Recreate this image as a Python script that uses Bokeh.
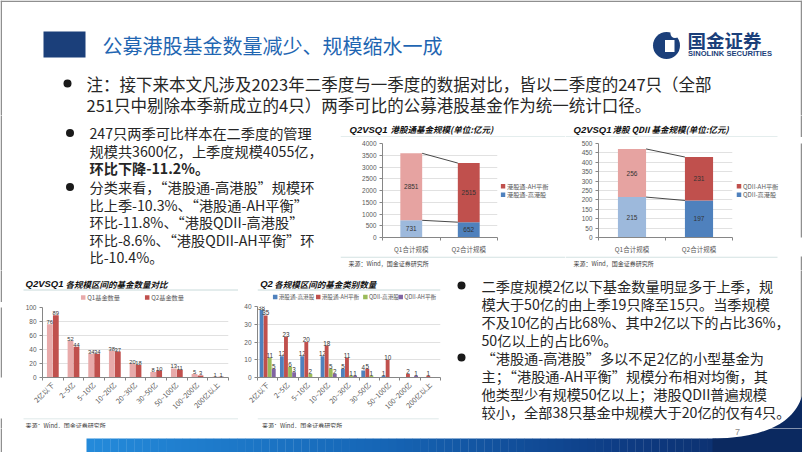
import math
from bokeh.plotting import figure
from bokeh.layouts import column, row
from bokeh.models import Range1d, Label, FixedTicker, CustomJSTickFormatter
from bokeh.embed import file_html
from bokeh.resources import INLINE
from bokeh.core.properties import value

CJK = "Noto Sans CJK SC"
NUM = "Liberation Sans"

# ---------------- data ----------------
page_title = "公募港股基金数量减少、规模缩水一成"
logo_cn = "国金证券"
logo_en = "SINOLINK SECURITIES"
note_lines = ["注：接下来本文凡涉及2023年二季度与一季度的数据对比，皆以二季度的247只（全部",
              "251只中剔除本季新成立的4只）两季可比的公募港股基金作为统一统计口径。"]
left_para1 = ["247只两季可比样本在二季度的管理", "规模共3600亿，上季度规模4055亿，"]
left_para1_bold = "环比下降-11.2%。"
left_para2 = ["分类来看，“港股通-高港股”规模环", "比上季-10.3%、“港股通-AH平衡”",
              "环比-11.8%、“港股QDII-高港股”", "环比-8.6%、“港股QDII-AH平衡”环", "比-10.4%。"]
right_para1 = ["二季度规模2亿以下基金数量明显多于上季，规", "模大于50亿的由上季19只降至15只。当季规模",
               "不及10亿的占比68%、其中2亿以下的占比36%，", "50亿以上的占比6%。"]
right_para2 = ["“港股通-高港股”多以不足2亿的小型基金为", "主；“港股通-AH平衡”规模分布相对均衡，其",
               "他类型少有规模50亿以上；港股QDII普遍规模", "较小，全部38只基金中规模大于20亿的仅有4只。"]
source_text = "来源：Wind，国金证券研究所"
page_no = "7"

c2_title = ("Q2VSQ1", "港股通基金规模(单位:亿元)")
c3_title = ("Q2VSQ1", "港股 QDII 基金规模(单位:亿元)")
c4_title = ("Q2VSQ1", "各规模区间的基金数量对比")
c5_title = ("Q2", "各规模区间的基金类别数量")

quarters = ["Q1合计规模", "Q2合计规模"]
sc_series = ["港股通-AH平衡", "港股通-高港股"]
sc_high = [731, 652]
sc_ah = [2851, 2515]
qd_series = ["QDII-AH平衡", "QDII-高港股"]
qd_high = [215, 197]
qd_ah = [256, 231]

size_bins = ["2亿以下", "2~5亿", "5~10亿", "10~20亿", "20~30亿", "30~50亿", "50~100亿", "100~200亿", "200亿以上"]
cnt_series = ["Q1基金数量", "Q2基金数量"]
cnt_q1 = [76, 52, 34, 38, 20, 8, 13, 5, 1]
cnt_q2 = [89, 44, 34, 37, 18, 10, 11, 3, 1]
type_series = ["港股通-高港股", "港股通-AH平衡", "QDII-高港股", "QDII-AH平衡"]
type_sc_high = [38, 12, 12, 12, 5, 4, 1, 0, 0]
type_sc_ah = [35, 23, 20, 18, 11, 5, 10, 2, 1]
type_qd_high = [11, 6, 2, 5, 1, 1, 0, 0, 0]
type_qd_ah = [5, 3, 0, 2, 1, 0, 0, 1, 0]

# ---------------- styles ----------------
W, H = 802, 452
NAVY = "#1B3F7A"
TITLE_BLUE = "#1F66B2"
TXT = "#262626"
AXIS = "#868686"
GRID = "#D9D9D9"
TICK_TXT = "#595959"
RULE = "#C8DADA"
RED_D, RED_L = "#C0504D", "#E6A3A1"
BLUE_D, BLUE_L = "#4F81BD", "#9DB9DC"
GREEN, PURPLE = "#9BBB59", "#8064A2"
CNT_L = "#E8AAAA"


def pix(x0, y0, w, h):
    p = figure(width=w, height=h, x_range=Range1d(x0, x0 + w), y_range=Range1d(y0 + h, y0),
               x_axis_location=None, y_axis_location=None, output_backend="svg",
               toolbar_location=None, min_border=0, title=None)
    p.grid.visible = False
    p.outline_line_color = None
    p.background_fill_color = "white"
    p.border_fill_color = "white"
    # slide border (clipped to each panel)
    p.segment(x0=[0.75, 801.0, 0], y0=[0, 0, 0.75], x1=[0.75, 801.0, W], y1=[H, H, 0.75],
              line_color="#8F8F8F", line_width=1.5)
    return p


def label(p, x, y, text, size, color=TXT, font=CJK, style="normal", align="left", baseline="middle"):
    p.add_layout(Label(x=x, y=y, text=text, text_font=font, text_font_size=f"{size}px",
                       text_color=color, text_font_style=style, text_align=align,
                       text_baseline=baseline))


def chart_title(p, x, y, parts, split):
    label(p, x, y, parts[0], 9.5, color="#111111", font=NUM, style="bold italic")
    label(p, split, y, parts[1], 8.5, color="#111111", font=CJK, style="bold italic")


def legend_items(p, xs, ys, names, colors, size=6.2):
    p.scatter(x=xs, y=ys, marker="square", size=4.5, fill_color=colors, line_color=None)
    for x, y, n in zip(xs, ys, names):
        label(p, x + 4, y, n, size, color=TICK_TXT)


def chart_fig(w, h, ymax, ystep, cats, ml, mr, mt, mb, orient="horizontal", xfs="6.5px"):
    n = len(cats)
    p = figure(width=w, height=h, x_range=Range1d(0, n), y_range=Range1d(0, ymax),
               output_backend="svg", toolbar_location=None, title=None,
               min_border_left=ml, min_border_right=mr, min_border_top=mt, min_border_bottom=mb)
    p.outline_line_color = None
    p.background_fill_color = "white"
    p.border_fill_color = "white"
    p.xgrid.visible = False
    yt = FixedTicker(ticks=list(range(0, ymax + 1, ystep)))
    p.yaxis.ticker = yt
    p.ygrid.ticker = yt
    p.ygrid.grid_line_color = GRID
    p.ygrid.grid_line_width = 0.8
    p.yaxis.axis_line_color = AXIS
    p.yaxis.major_tick_line_color = AXIS
    p.yaxis.major_tick_out = 3
    p.yaxis.major_tick_in = 0
    p.yaxis.minor_tick_line_color = None
    p.yaxis.major_label_standoff = 3
    p.yaxis.major_label_text_font = NUM
    p.yaxis.major_label_text_font_size = "6.5px"
    p.yaxis.major_label_text_color = TICK_TXT
    centers = [i + 0.5 for i in range(n)]
    p.xaxis.ticker = FixedTicker(ticks=centers, minor_ticks=list(range(n + 1)))
    p.xaxis.formatter = CustomJSTickFormatter(args=dict(labels=cats),
                                              code="return labels[Math.floor(tick)] || '';")
    p.xaxis.axis_line_color = AXIS
    p.xaxis.major_tick_line_color = None
    p.xaxis.major_tick_out = 0
    p.xaxis.major_tick_in = 0
    p.xaxis.minor_tick_line_color = AXIS
    p.xaxis.minor_tick_out = 3
    p.xaxis.minor_tick_in = 0
    p.xaxis.major_label_standoff = 3
    p.xaxis.major_label_text_font = CJK
    p.xaxis.major_label_text_font_size = xfs
    p.xaxis.major_label_text_color = TICK_TXT
    p.xaxis.major_label_orientation = orient
    return p, centers


def vlabels(p, xs, ys, texts, size="6px", baseline="bottom"):
    p.text(x=xs, y=ys, text=texts, text_align="center", text_baseline=baseline,
           text_font=value(NUM), text_font_size=value(size), text_color="#333333")


# ---------------- header ----------------
hdr = pix(0, 0, 802, 115)
hdr.quad(left=[43], right=[85], top=[31], bottom=[57], fill_color=NAVY, line_color=None)
label(hdr, 102, 45, page_title, 20, color=TITLE_BLUE)
hdr.circle(x=[666], y=[45], radius=13.5, fill_color=NAVY, line_color=None)
hdr.quad(left=[664.5], right=[674], top=[39.5], bottom=[51.5], fill_color="white", line_color=None)
hdr.circle(x=[674.5], y=[33], radius=4.5, fill_color="white", line_color=None)
label(hdr, 687, 39, logo_cn, 18.5, color=NAVY, style="bold")
label(hdr, 687.5, 53, logo_en, 7.6, color=NAVY, font=NUM, style="bold")
hdr.scatter(x=[67], y=[83], size=8, fill_color="#1a1a1a", line_color=None)
for i, s in enumerate(note_lines):
    label(hdr, 86, 83 + 21 * i, s, 16.5)

# ---------------- left text ----------------
lt = pix(0, 115, 340, 155)
lt.scatter(x=[69.5, 69.5], y=[132.5, 186.5], size=8, fill_color="#1a1a1a", line_color=None)
for i, s in enumerate(left_para1):
    label(lt, 89, 132.5 + 17.5 * i, s, 14.2)
label(lt, 89, 167.5, left_para1_bold, 14.2, style="bold")
for i, s in enumerate(left_para2):
    label(lt, 89, 186.5 + 17.6 * i, s, 14.2)

# ---------------- chart 2: 港股通基金规模 ----------------
t2 = pix(340, 115, 225, 22)
chart_title(t2, 349, 128.5, c2_title, 390)
t2.segment(x0=[340], y0=[136.5], x1=[565], y1=[136.5], line_color=RULE, line_width=1)

c2, cx2 = chart_fig(160, 119, 4000, 500, quarters, 42, 3, 6, 14)
bw = 0.38
tot2 = [h + a for h, a in zip(sc_high, sc_ah)]
c2.vbar(x=cx2, bottom=0, top=sc_high, width=bw, fill_color=[BLUE_L, BLUE_D], line_color=None)
c2.vbar(x=cx2, bottom=sc_high, top=tot2, width=bw, fill_color=[RED_L, RED_D], line_color=None)
c2.segment(x0=[cx2[0] + bw / 2] * 2, y0=[tot2[0], sc_high[0]], x1=[cx2[1] - bw / 2] * 2,
           y1=[tot2[1], sc_high[1]], line_color="#1a1a1a", line_width=0.8)
vlabels(c2, cx2 + cx2, [h / 2 for h in sc_high] + [h + a / 2 for h, a in zip(sc_high, sc_ah)],
        [str(v) for v in sc_high + sc_ah], size="6.5px", baseline="middle")

l2 = pix(500, 137, 65, 119)
legend_items(l2, [502.5, 502.5], [191, 202], sc_series, [RED_D, BLUE_D])

s2 = pix(340, 256, 225, 14)
s2.segment(x0=[340], y0=[256.6], x1=[565], y1=[256.6], line_color=RULE, line_width=1)
label(s2, 348, 262.5, source_text, 6, color="#404040")

# ---------------- chart 3: 港股QDII基金规模 ----------------
t3 = pix(565, 115, 237, 22)
chart_title(t3, 573, 128.5, c3_title, 612)
t3.segment(x0=[565], y0=[136.5], x1=[777], y1=[136.5], line_color=RULE, line_width=1)

c3, cx3 = chart_fig(170, 119, 500, 50, quarters, 33, 3, 6, 14)
tot3 = [h + a for h, a in zip(qd_high, qd_ah)]
c3.vbar(x=cx3, bottom=0, top=qd_high, width=0.42, fill_color=[BLUE_L, BLUE_D], line_color=None)
c3.vbar(x=cx3, bottom=qd_high, top=tot3, width=0.42, fill_color=[RED_L, RED_D], line_color=None)
c3.segment(x0=[cx3[0] + 0.21] * 2, y0=[tot3[0], qd_high[0]], x1=[cx3[1] - 0.21] * 2,
           y1=[tot3[1], qd_high[1]], line_color="#1a1a1a", line_width=0.8)
vlabels(c3, cx3 + cx3, [h / 2 for h in qd_high] + [h + a / 2 for h, a in zip(qd_high, qd_ah)],
        [str(v) for v in qd_high + qd_ah], size="6.5px", baseline="middle")

l3 = pix(735, 137, 67, 119)
legend_items(l3, [738.5, 738.5], [191, 202], qd_series, [RED_D, BLUE_D])

s3 = pix(565, 256, 237, 14)
s3.segment(x0=[565], y0=[256.6], x1=[777], y1=[256.6], line_color=RULE, line_width=1)
label(s3, 573, 263, source_text, 6, color="#404040")

# ---------------- chart 4: 各规模区间基金数量 ----------------
t4 = pix(0, 270, 238, 32)
chart_title(t4, 25, 283, c4_title, 65)
t4.segment(x0=[23], y0=[289.5], x1=[238], y1=[289.5], line_color=RULE, line_width=1)
legend_items(t4, [82.7, 146.7], [297, 297], cnt_series, [CNT_L, RED_D])

strip4 = pix(0, 302, 2, 115)
c4, cx4 = chart_fig(236, 115, 100, 20, size_bins, 40, 10, 5, 33, orient=math.pi / 4, xfs="7px")
x4a = [c - 0.145 for c in cx4]
x4b = [c + 0.145 for c in cx4]
c4.vbar(x=x4a, bottom=0, top=cnt_q1, width=0.28, fill_color=CNT_L, line_color=None)
c4.vbar(x=x4b, bottom=0, top=cnt_q2, width=0.28, fill_color=RED_D, line_color=None)
vlabels(c4, x4a + x4b, cnt_q1 + cnt_q2, [str(v) for v in cnt_q1 + cnt_q2], size="5.8px")

s4 = pix(0, 417, 238, 11)
s4.segment(x0=[23], y0=[417.2], x1=[238], y1=[417.2], line_color=RULE, line_width=1)
label(s4, 25, 423.5, source_text, 6, color="#404040")

# ---------------- chart 5: 各规模区间基金类别数量 ----------------
t5 = pix(238, 270, 207, 32)
chart_title(t5, 241, 283, c5_title, 257)
t5.segment(x0=[238], y0=[289.5], x1=[445], y1=[289.5], line_color=RULE, line_width=1)
legend_items(t5, [258, 306.7, 360, 400], [296.5] * 4, type_series, [BLUE_D, RED_D, GREEN, PURPLE], size=5.6)

c5, cx5 = chart_fig(207, 115, 40, 10, size_bins, 19, 5, 4, 33, orient=math.pi / 4, xfs="7px")
series5 = [type_sc_high, type_sc_ah, type_qd_high, type_qd_ah]
colors5 = [BLUE_D, RED_D, GREEN, PURPLE]
offs5 = [-0.3, -0.1, 0.1, 0.3]
for vals, col, off in zip(series5, colors5, offs5):
    xs = [c + off for c in cx5]
    c5.vbar(x=xs, bottom=0, top=vals, width=0.19, fill_color=col, line_color=None)
    nz = [(x, v) for x, v in zip(xs, vals) if v > 0]
    vlabels(c5, [x for x, _ in nz], [v for _, v in nz], [str(v) for _, v in nz], size="6.3px")

s5 = pix(238, 417, 207, 11)
s5.segment(x0=[238], y0=[417.2], x1=[443], y1=[417.2], line_color=RULE, line_width=1)
label(s5, 243, 423.5, source_text, 6, color="#404040")

# ---------------- right text ----------------
rt = pix(445, 270, 357, 158)
rt.scatter(x=[461, 461], y=[285, 357], size=8, fill_color="#1a1a1a", line_color=None)
for i, s in enumerate(right_para1):
    label(rt, 481, 285 + 18 * i, s, 14.2)
for i, s in enumerate(right_para2):
    label(rt, 481, 357 + 18 * i, s, 14.2)

# ---------------- bottom band ----------------
bot = pix(0, 428, 802, 24)


def lerp(a, b, t):
    return a + (b - a) * t


stops = [(86, (36, 138, 219)), (380, (22, 102, 182)), (620, (14, 60, 132)), (802, (11, 40, 96))]
n_seg = 90
lefts, rights, cols = [], [], []
for k in range(n_seg):
    x0 = 86 + (802 - 86) * k / n_seg
    x1 = 86 + (802 - 86) * (k + 1) / n_seg
    xm = (x0 + x1) / 2
    for (sa, ca), (sb, cb) in zip(stops[:-1], stops[1:]):
        if sa <= xm <= sb:
            t = (xm - sa) / (sb - sa)
            c = tuple(int(round(lerp(ca[j], cb[j], t))) for j in range(3))
            break
    lefts.append(x0)
    rights.append(x1 + 0.3)
    cols.append("#%02x%02x%02x" % c)
bot.quad(left=lefts, right=rights, top=438, bottom=452, fill_color=cols, line_color=None)

# swoosh at bottom right (quadratic curve)
P0, P1, P2 = (712, 438), (790, 437), (802, 394)
sw_x, sw_y = [], []
for k in range(31):
    t = k / 30
    sw_x.append((1 - t) ** 2 * P0[0] + 2 * (1 - t) * t * P1[0] + t ** 2 * P2[0])
    sw_y.append((1 - t) ** 2 * P0[1] + 2 * (1 - t) * t * P1[1] + t ** 2 * P2[1])
sw_x += [802, 712]
sw_y += [452, 452]
for fig in (rt, bot):
    fig.patch(x=sw_x, y=sw_y, fill_color="#0B2960", line_color=None)
label(bot, 737, 431.5, page_no, 9, color="#8C8C8C", font=NUM, align="center")

# ---------------- layout ----------------
panel2 = column(t2, row(c2, l2), s2)
panel3 = column(t3, row(c3, l3), s3)
panel4 = column(t4, row(strip4, c4), s4)
panel5 = column(t5, c5, s5)
root = column(hdr, row(lt, panel2, panel3), row(panel4, panel5, rt), bot)

open("out.html", "w").write(file_html(root, INLINE))
